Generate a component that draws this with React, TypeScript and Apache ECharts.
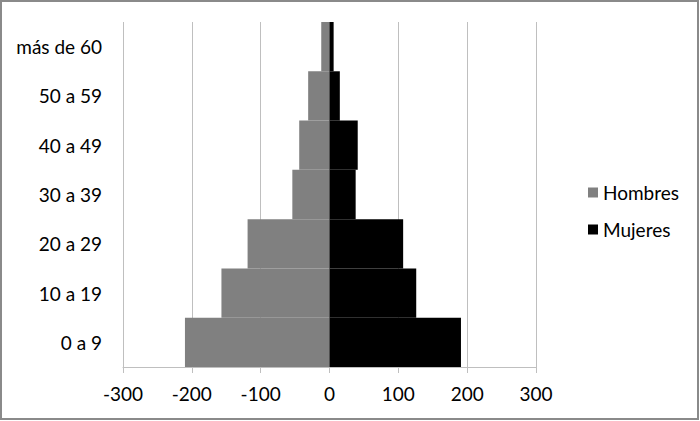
import React, { useEffect, useRef } from "react";
import * as echarts from "echarts";

const categories = ["0 a 9", "10 a 19", "20 a 29", "30 a 39", "40 a 49", "50 a 59", "más de 60"];
const hombres = [-210, -157, -119, -54, -44, -31, -12];
const mujeres = [191, 126, 107, 38, 41, 15, 6];
const xTicks = { min: -300, max: 300, interval: 100 };

const FONT = "Lato, 'Noto Sans', sans-serif";

export default function App() {
  const ref = useRef<HTMLDivElement>(null);
  useEffect(() => {
    if (!ref.current) return;
    const chart = echarts.init(ref.current, undefined, { renderer: "svg" });
    chart.setOption({
      animation: false,
      backgroundColor: "#ffffff",
      textStyle: { fontFamily: FONT },
      grid: { left: 123, right: 164, top: 22, bottom: 54 },
      legend: {
        orient: "vertical",
        left: 583,
        top: 178,
        itemWidth: 10,
        itemHeight: 10,
        itemGap: 18,
        icon: "rect",
        textStyle: { fontSize: 19, color: "#000", fontFamily: FONT },
        data: ["Hombres", "Mujeres"],
      },
      xAxis: {
        type: "value",
        min: xTicks.min,
        max: xTicks.max,
        interval: xTicks.interval,
        axisLine: { show: true, lineStyle: { color: "#bfbfbf", width: 1 } },
        axisTick: { show: true, length: 6, lineStyle: { color: "#bfbfbf" } },
        splitLine: { show: true, lineStyle: { color: "#bfbfbf", width: 1 } },
        axisLabel: { color: "#000", fontSize: 19, margin: 17, fontFamily: FONT },
      },
      yAxis: {
        type: "category",
        data: categories,
        axisLine: { show: false },
        axisTick: { show: false },
        axisLabel: { color: "#000", fontSize: 19, margin: 21, fontFamily: FONT },
      },
      series: [
        {
          name: "Hombres",
          type: "bar",
          stack: "total",
          data: hombres,
          barCategoryGap: "0%",
          itemStyle: { color: "#808080" },
        },
        {
          name: "Mujeres",
          type: "bar",
          stack: "total",
          data: mujeres,
          barCategoryGap: "0%",
          itemStyle: { color: "#000000" },
        },
      ],
      graphic: [
        {
          type: "rect",
          shape: { x: 1, y: 1, width: 697, height: 418 },
          style: { fill: "none", stroke: "#8a8a8a", lineWidth: 2 },
          silent: true,
        },
      ],
    });
    return () => chart.dispose();
  }, []);
  return (
    <div
      ref={ref}
      style={{ position: "absolute", left: 0, top: 0, width: 700, height: 421 }}
    />
  );
}
